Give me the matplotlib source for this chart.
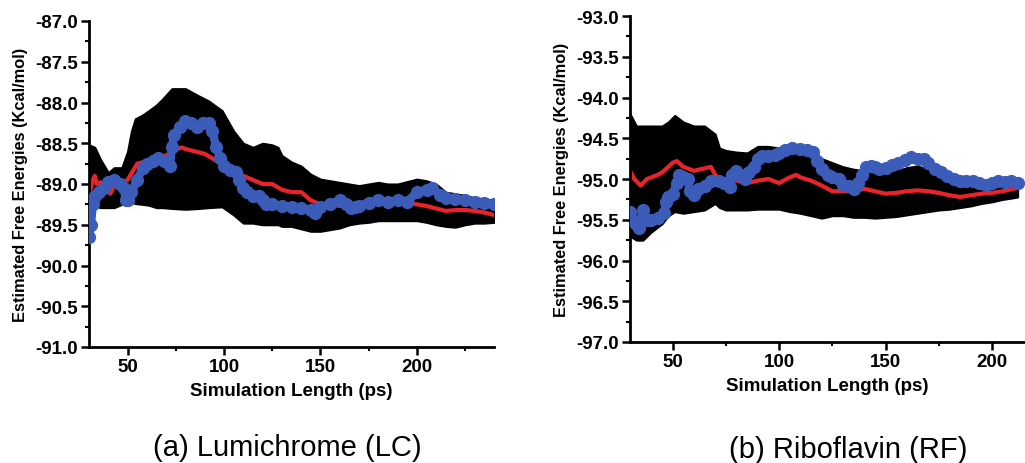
import matplotlib
matplotlib.use('Agg')
import matplotlib.pyplot as plt
from matplotlib.ticker import MultipleLocator, FormatStrFormatter

plt.rcParams['font.family'] = ['Liberation Sans', 'DejaVu Sans']

# ---- Lumichrome (LC) ----
lc_band_t = [30, 33, 36, 40, 43, 47, 50, 52, 54, 58, 61, 65, 68, 73, 80, 87, 92, 99, 105, 110,
             115, 120, 125, 128, 130, 135, 140, 145, 150, 155, 160, 165, 170, 175, 180, 185, 190,
             195, 200, 205, 210, 215, 220, 225, 230, 235, 240]
lc_upper = [-88.52, -88.55, -88.7, -88.86, -88.8, -88.8, -88.6, -88.35, -88.2, -88.15,
            -88.1, -88.03, -87.96, -87.83, -87.83, -87.92, -87.98, -88.1, -88.35, -88.5,
            -88.55, -88.5, -88.52, -88.55, -88.65, -88.73, -88.78, -88.88, -88.94, -88.96,
            -88.98, -89.0, -89.02, -89.0, -88.98, -89.0, -89.0, -88.97, -88.94, -88.96,
            -89.0, -89.1, -89.12, -89.14, -89.17, -89.18, -89.2]
lc_lower = [-89.27, -89.27, -89.29, -89.29, -89.29, -89.25, -89.22, -89.22, -89.24, -89.25,
            -89.26, -89.29, -89.29, -89.3, -89.31, -89.3, -89.29, -89.28, -89.38, -89.48,
            -89.48, -89.5, -89.5, -89.5, -89.52, -89.52, -89.55, -89.58, -89.58, -89.56,
            -89.54, -89.5, -89.48, -89.47, -89.45, -89.45, -89.45, -89.45, -89.45, -89.47,
            -89.5, -89.52, -89.53, -89.5, -89.48, -89.48, -89.47]

lc_red_t = [30, 31, 32, 33, 34, 36, 38, 40, 41, 43, 45, 50, 55, 60, 65, 70, 75, 78, 80, 85, 90,
            95, 100, 105, 110, 115, 120, 125, 130, 135, 140, 145, 150, 155, 160, 165, 170,
            175, 180, 185, 190, 195, 200, 205, 210, 215, 220, 225, 230, 235, 240]
lc_red = [-89.1, -89.05, -88.95, -88.9, -89.0, -88.98, -89.05, -89.05, -89.12, -89.02, -89.0,
          -88.95, -88.75, -88.72, -88.68, -88.65, -88.58, -88.55, -88.57, -88.6, -88.63,
          -88.7, -88.78, -88.85, -88.9, -88.95, -89.0, -89.0, -89.07, -89.1, -89.1,
          -89.2, -89.25, -89.25, -89.27, -89.25, -89.25, -89.23, -89.22, -89.22, -89.22,
          -89.22, -89.25, -89.27, -89.3, -89.33, -89.32, -89.32, -89.33, -89.35, -89.38]

lc_blue_t = [30, 31, 32, 33, 35, 38, 40, 43, 46, 48, 49, 50, 52, 55, 58, 60, 63, 66, 69, 72,
             73, 74, 77, 80, 83, 86, 89, 92, 94, 96, 98, 100, 103, 106, 108, 110, 112, 115,
             118, 120, 122, 125, 130, 135, 140, 145, 147, 150, 155, 160, 163, 166, 168, 170,
             175, 180, 185, 190, 195, 200, 205, 208, 212, 215, 220, 225, 230, 235, 240]
lc_blue = [-89.65, -89.5, -89.25, -89.15, -89.1, -89.05, -88.98, -88.95, -89.0, -89.05,
           -89.2, -89.2, -89.1, -88.95, -88.8, -88.75, -88.72, -88.68, -88.72, -88.78,
           -88.55, -88.4, -88.3, -88.23, -88.25, -88.3, -88.25, -88.25, -88.35, -88.55,
           -88.68, -88.78, -88.83, -88.85, -88.95, -89.05, -89.1, -89.15, -89.15, -89.2,
           -89.25, -89.25, -89.27, -89.28, -89.3, -89.32, -89.35, -89.28, -89.25, -89.2,
           -89.25, -89.3, -89.28, -89.27, -89.23, -89.2, -89.22, -89.2, -89.22, -89.1,
           -89.07, -89.05, -89.13, -89.17, -89.18, -89.2, -89.22, -89.23, -89.25]

# ---- Riboflavin (RF) ----
rf_band_t = [30, 33, 36, 40, 45, 48, 51, 55, 60, 65, 70, 72, 75, 80, 85, 90, 95, 100, 105, 110,
             115, 120, 125, 130, 135, 140, 145, 150, 155, 160, 165, 170, 175, 180, 185, 190,
             195, 200, 205, 210, 212]
rf_upper = [-94.2, -94.35, -94.35, -94.35, -94.35, -94.3, -94.22, -94.3, -94.35, -94.35,
            -94.45, -94.62, -94.65, -94.67, -94.68, -94.6, -94.6, -94.62, -94.6, -94.65,
            -94.7, -94.75, -94.8, -94.85, -94.88, -94.9, -94.93, -94.92, -94.9, -94.86,
            -94.84, -94.88, -94.95, -95.0, -95.05, -95.07, -95.08, -95.1, -95.1, -95.1, -95.1]
rf_lower = [-95.7, -95.75, -95.75, -95.65, -95.55, -95.45, -95.4, -95.42, -95.4, -95.38,
            -95.3, -95.35, -95.38, -95.38, -95.38, -95.37, -95.37, -95.37, -95.4, -95.42,
            -95.45, -95.48, -95.45, -95.45, -95.47, -95.47, -95.48, -95.47, -95.46, -95.44,
            -95.42, -95.4, -95.38, -95.37, -95.35, -95.33, -95.3, -95.28, -95.25, -95.23, -95.22]

rf_red_t = [30, 32, 35, 38, 40, 43, 45, 48, 50, 52, 55, 58, 60, 63, 65, 68, 70, 72, 75, 80, 85,
            90, 95, 100, 105, 108, 110, 115, 120, 125, 130, 135, 140, 145, 150, 155, 160, 165,
            170, 175, 180, 185, 190, 195, 200, 205, 210, 212]
rf_red = [-94.9, -95.0, -95.08, -95.0, -94.98, -94.95, -94.92, -94.85, -94.8, -94.78,
          -94.85, -94.88, -94.9, -94.88, -94.87, -94.85, -94.95, -95.0, -95.0, -95.02,
          -95.05, -95.02, -95.0, -95.05, -94.98, -94.95, -94.98, -95.02, -95.08, -95.15,
          -95.15, -95.15, -95.12, -95.15, -95.18, -95.17, -95.15, -95.14, -95.15, -95.17,
          -95.2, -95.22, -95.2, -95.18, -95.17, -95.15, -95.12, -95.11]

rf_blue_t = [30, 31, 33, 34, 36, 38, 40, 43, 46, 47, 48, 50, 52, 53, 55, 57, 58, 60, 62, 65,
             68, 72, 74, 77, 78, 80, 82, 84, 86, 88, 90, 92, 95, 98, 100, 103, 106, 110, 113,
             116, 118, 120, 123, 125, 128, 130, 133, 135, 137, 139, 141, 143, 145, 147, 150,
             153, 156, 159, 162, 165, 168, 170, 173, 176, 179, 182, 185, 188, 191, 194, 197,
             200, 203, 206, 209, 212]
rf_blue = [-95.4, -95.5, -95.55, -95.6, -95.38, -95.5, -95.5, -95.48, -95.42, -95.28,
           -95.22, -95.18, -95.05, -94.95, -94.97, -95.0, -95.15, -95.2, -95.12, -95.08,
           -95.03, -95.02, -95.05, -95.1, -94.95, -94.9, -94.95, -95.0, -94.92, -94.85,
           -94.75, -94.72, -94.72, -94.7, -94.68, -94.65, -94.62, -94.63, -94.65, -94.67,
           -94.78, -94.88, -94.95, -94.97, -95.0, -95.07, -95.08, -95.12, -95.05, -94.95,
           -94.85, -94.84, -94.85, -94.88, -94.87, -94.83, -94.8, -94.77, -94.73, -94.75,
           -94.75, -94.8, -94.88, -94.92, -94.96, -95.0, -95.03, -95.02, -95.03, -95.05,
           -95.07, -95.05, -95.03, -95.04, -95.03, -95.05]

RED = '#e8242a'
BLUE = '#3b5cb8'


def draw_panel(ax, band_t, upper, lower, red_t, red, blue_t, blue, xlim, ylim):
    '''band, mean line and dotted estimate on one axis'''
    ax.fill_between(band_t, lower, upper, color='black', lw=1.5, edgecolor='black', zorder=1)
    ax.plot(red_t, red, color=RED, lw=3, zorder=2)
    ax.plot(blue_t, blue, color=BLUE, lw=6, marker='o', ms=8.5, mec=BLUE, zorder=3)

    ax.set_xlim(*xlim)
    ax.set_ylim(*ylim)
    ax.xaxis.set_major_locator(MultipleLocator(50))
    ax.xaxis.set_minor_locator(MultipleLocator(25))
    ax.yaxis.set_major_locator(MultipleLocator(0.5))
    ax.yaxis.set_minor_locator(MultipleLocator(0.25))
    ax.yaxis.set_major_formatter(FormatStrFormatter('%.1f'))

    for s in ['top', 'right']:
        ax.spines[s].set_visible(False)
    for s in ['left', 'bottom']:
        ax.spines[s].set_linewidth(2)
    ax.tick_params(which='major', direction='out', length=6, width=1.8, labelsize=13.5, pad=2)
    ax.tick_params(which='minor', direction='out', length=3, width=1.5)
    for lab in ax.get_xticklabels() + ax.get_yticklabels():
        lab.set_fontweight('bold')

    ax.set_xlabel('Simulation Length (ps)', fontsize=13.5, fontweight='bold', labelpad=5)
    ax.set_ylabel('Estimated Free Energies (Kcal/mol)', fontsize=11.8, fontweight='bold',
                  labelpad=5)


fig = plt.figure(figsize=(10.25, 4.64), dpi=100)

ax1 = fig.add_axes([89 / 1025, 1 - 348 / 464, 405 / 1025, 326 / 464])
draw_panel(ax1, lc_band_t, lc_upper, lc_lower, lc_red_t, lc_red, lc_blue_t, lc_blue,
           (30, 240), (-91.0, -87.0))

ax2 = fig.add_axes([630 / 1025, 1 - 343 / 464, 394 / 1025, 326 / 464])
draw_panel(ax2, rf_band_t, rf_upper, rf_lower, rf_red_t, rf_red, rf_blue_t, rf_blue,
           (30, 215), (-97.0, -93.0))

fig.text(287 / 1025, 1 - 448 / 464, '(a) Lumichrome (LC)', ha='center', va='center', fontsize=21)
fig.text(848 / 1025, 1 - 450 / 464, '(b) Riboflavin (RF)', ha='center', va='center', fontsize=21)

plt.savefig('out.png', dpi=100)
